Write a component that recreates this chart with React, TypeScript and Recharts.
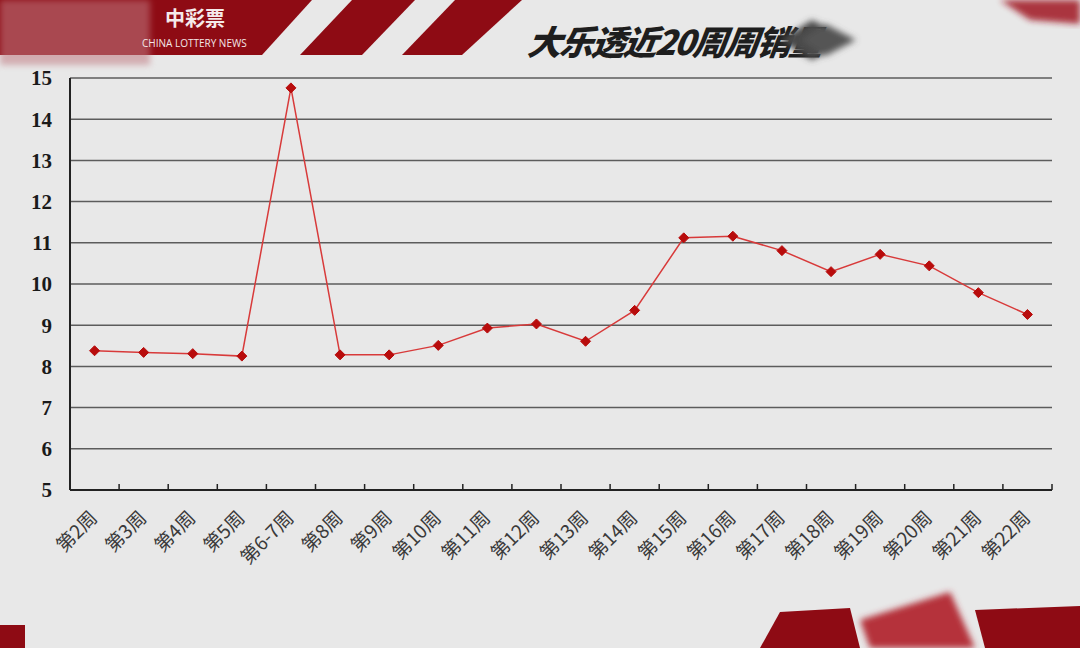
import React from 'react';
import { LineChart, Line, XAxis, YAxis, CartesianGrid } from 'recharts';

// weekly sales (亿元)
const weeks = [
  '第2周', '第3周', '第4周', '第5周', '第6-7周', '第8周', '第9周', '第10周', '第11周', '第12周',
  '第13周', '第14周', '第15周', '第16周', '第17周', '第18周', '第19周', '第20周', '第21周', '第22周',
];
const sales = [
  8.38, 8.34, 8.31, 8.25, 14.76, 8.28, 8.28, 8.51, 8.93, 9.03,
  8.61, 9.36, 11.12, 11.16, 10.81, 10.3, 10.72, 10.44, 9.79, 9.26,
];
const yTicks = [5, 6, 7, 8, 9, 10, 11, 12, 13, 14, 15];

const TITLE = '大乐透近20周周销量';

const data = weeks.map((w, i) => ({ week: w, v: sales[i] }));

const Diamond = (props: any) => {
  const { cx, cy } = props;
  if (cx == null || cy == null) return null;
  const r = 5;
  return (
    <polygon
      points={`${cx},${cy - r} ${cx + r},${cy} ${cx},${cy + r} ${cx - r},${cy}`}
      fill="#b80c0c"
      stroke="#b80c0c"
    />
  );
};

const WeekTick = (props: any) => {
  const { x, y, payload } = props;
  const half =
    payload && typeof payload.offset === 'number' && payload.offset > 0
      ? payload.offset
      : props.width && props.visibleTicksCount
        ? props.width / props.visibleTicksCount / 2
        : 0;
  const tx = x + 4;
  const ty = y + 29;
  return (
    <g>
      {half > 0 && (
        <line x1={x + half} x2={x + half} y1={y} y2={y - 6} stroke="#222" strokeWidth={1.5} />
      )}
      <text
        x={tx}
        y={ty}
        textAnchor="end"
        fill="#3a3a3a"
        fontSize={19}
        fontFamily="'Noto Sans CJK SC', 'Liberation Serif', serif"
        transform={`rotate(-45, ${tx}, ${ty})`}
      >
        {payload.value}
      </text>
    </g>
  );
};

function Decorations() {
  const red = '#8e0b14';
  return (
    <svg width={1080} height={648} style={{ position: 'absolute', left: 0, top: 0 }}>
      <defs>
        <filter id="soft" x="-20%" y="-20%" width="140%" height="140%">
          <feGaussianBlur stdDeviation="3" />
        </filter>
      </defs>
      {/* top-left banner */}
      <polygon points="0,0 312,0 262,55 0,55" fill={red} />
      <rect x={0} y={0} width={150} height={65} fill="#c07a82" opacity={0.55} filter="url(#soft)" />
      <text x={165} y={26} fontSize={20} fontWeight={700} fill="#f5eaea" fontFamily="'Noto Sans CJK SC', sans-serif">
        中彩票
      </text>
      <text x={142} y={47} fontSize={10} fill="#f3e6e6" fontFamily="'Open Sans', sans-serif">
        CHINA LOTTERY NEWS
      </text>
      {/* stripes */}
      <polygon points="352,0 415,0 362,55 300,55" fill={red} />
      <polygon points="455,0 522,0 462,55 402,55" fill={red} />
      {/* top-right corner */}
      <polygon points="1000,0 1080,0 1080,24 1030,20" fill="#a01520" opacity={0.85} filter="url(#soft)" />
      {/* title */}
      <text
        x={527}
        y={55}
        fontSize={34}
        fontWeight={900}
        fontStyle="italic"
        fill="#1e1e1e"
        letterSpacing={-2}
        fontFamily="'Noto Sans CJK SC', sans-serif"
        transform="skewX(-8) translate(7,0)"
      >
        {TITLE}
      </text>
      <g filter="url(#soft)">
        <polygon points="780,40 812,20 850,40 812,60" fill="#4a4a4a" />
        <polygon points="800,40 825,24 856,40 825,56" fill="#555" />
      </g>
      {/* bottom decorations */}
      <rect x={0} y={625} width={25} height={23} fill={red} />
      <polygon points="780,612 850,608 860,648 760,648" fill={red} />
      <polygon points="860,620 950,592 975,648 870,648" fill="#b5303a" filter="url(#soft)" />
      <polygon points="975,610 1080,606 1080,648 985,648" fill={red} />
    </svg>
  );
}

export default function App() {
  return (
    <div
      style={{
        position: 'absolute',
        left: 0,
        top: 0,
        width: 1080,
        height: 648,
        background: '#e8e8e8',
        overflow: 'hidden',
      }}
    >
      <Decorations />
      <div style={{ position: 'absolute', left: 0, top: 0 }}>
        <LineChart width={1080} height={648} data={data} margin={{ top: 78, right: 28, bottom: 78, left: 0 }}>
          <CartesianGrid vertical={false} stroke="#5c5c5c" strokeWidth={1.5} />
          <XAxis
            dataKey="week"
            scale="band"
            interval={0}
            height={80}
            tickLine={false}
            tickSize={0}
            tickMargin={0}
            axisLine={{ stroke: '#222', strokeWidth: 2 }}
            tick={<WeekTick />}
          />
          <YAxis
            domain={[5, 15]}
            ticks={yTicks}
            width={70}
            tickLine={false}
            tickMargin={12}
            axisLine={{ stroke: '#222', strokeWidth: 2 }}
            tick={{ fill: '#1a1a1a', fontSize: 21, fontWeight: 700, fontFamily: "'Liberation Serif', serif" }}
          />
          <YAxis
            yAxisId="frame"
            orientation="right"
            domain={[5, 15]}
            width={0}
            tick={false}
            tickLine={false}
            axisLine={{ stroke: '#777', strokeWidth: 1.5 }}
          />
          <Line
            type="linear"
            dataKey="v"
            stroke="#d83a3a"
            strokeWidth={1.5}
            dot={<Diamond />}
            activeDot={false}
            isAnimationActive={false}
          />
        </LineChart>
      </div>
    </div>
  );
}
